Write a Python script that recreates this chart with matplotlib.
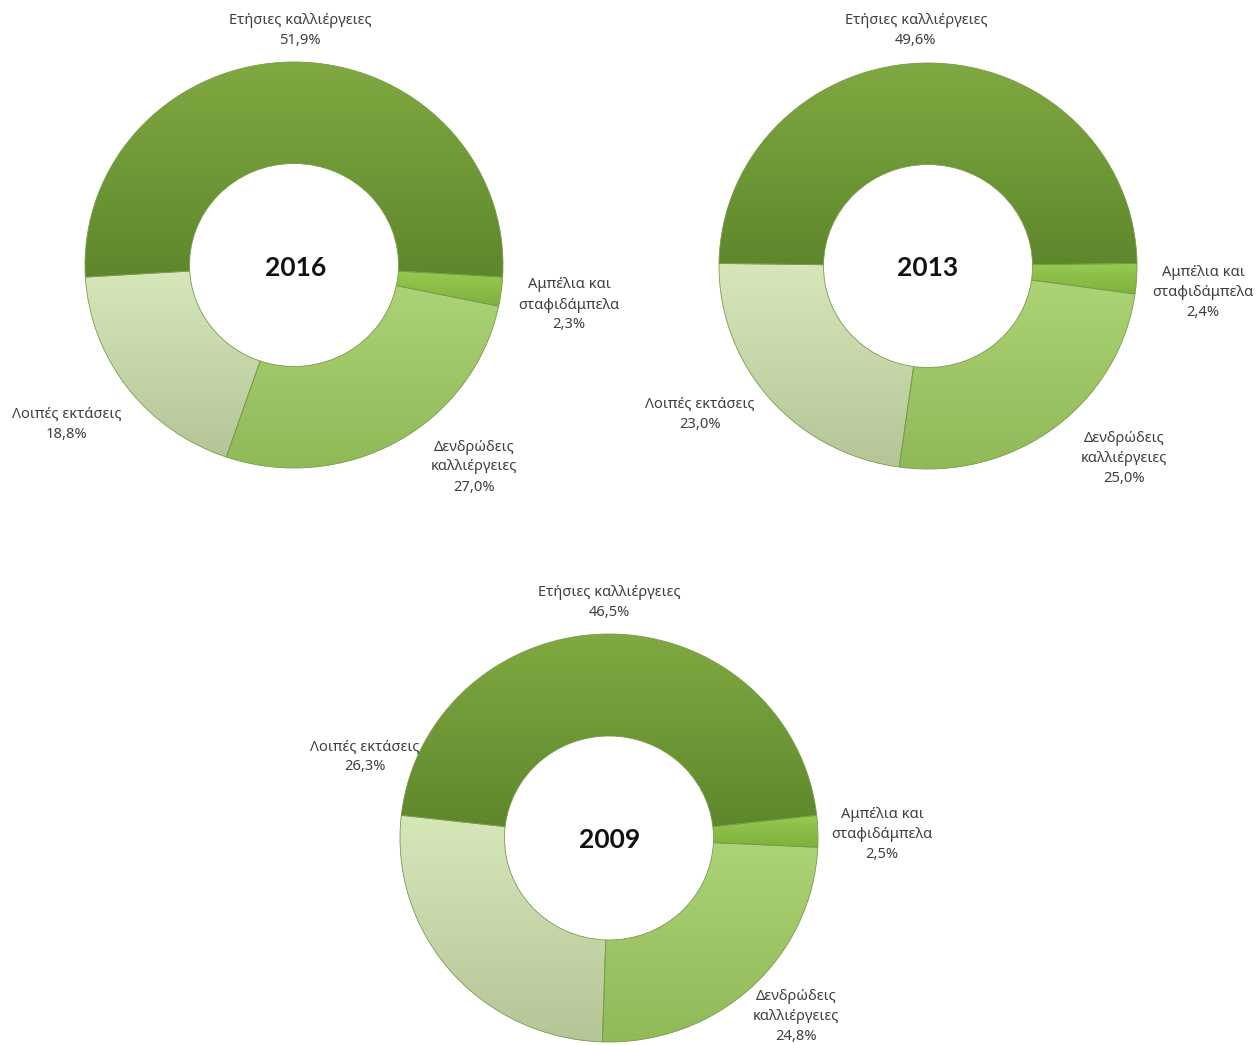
import numpy as np
import matplotlib
matplotlib.use('Agg')
import matplotlib.pyplot as plt
from matplotlib.colors import LinearSegmentedColormap

plt.rcParams['font.family'] = ['Noto Sans', 'DejaVu Sans']

# ---------------- data ----------------
categories = ['Ετήσιες καλλιέργειες', 'Αμπέλια και σταφιδάμπελα',
              'Δενδρώδεις καλλιέργειες', 'Λοιπές εκτάσεις']
label_lines = [['Ετήσιες καλλιέργειες'],
               ['Αμπέλια και', 'σταφιδάμπελα'],
               ['Δενδρώδεις', 'καλλιέργειες'],
               ['Λοιπές εκτάσεις']]
years = ['2016', '2013', '2009']
values_2016 = [51.9, 2.3, 27.0, 18.8]
values_2013 = [49.6, 2.4, 25.0, 23.0]
values_2009 = [46.5, 2.5, 24.8, 26.3]
all_values = [values_2016, values_2013, values_2009]

# ---------------- style ----------------
top_colors = ['#80a942', '#98cb52', '#acd375', '#d6e7ba']
bot_colors = ['#5e872c', '#7fb03c', '#90b958', '#b4c697']
text_color = '#404040'

W, H = 1256, 1045
fig = plt.figure(figsize=(W / 100, H / 100), dpi=100)

# donut geometry in pixels: centre x, centre y (from top), radius x, radius y
geom = [(294, 265, 209, 203), (928, 266, 209, 203), (609, 838, 209, 204)]

# label positions (pixels) for each donut and category
label_pos = [
    [(300, 21), (569, 285), (474, 447), (67, 414)],
    [(916, 20), (1203, 272), (1124, 438), (700, 404)],
    [(609, 593), (882, 815), (796, 997), (365, 747)],
]
year_pos = [(296, 268), (928, 268), (610, 840)]


def px(x, y):
    return x / W, 1 - y / H


grad = np.linspace(0, 1, 256).reshape(-1, 1)

for k, (vals, year) in enumerate(zip(all_values, years)):
    cx, cy, rx, ry = geom[k]
    ax = fig.add_axes([(cx - rx) / W, (H - (cy + ry)) / H, 2 * rx / W, 2 * ry / H])
    start = 90 + vals[0] / sum(vals) * 360 / 2
    wedges, _ = ax.pie(vals, startangle=start, counterclock=False, radius=1.0,
                       colors=bot_colors,
                       wedgeprops=dict(width=0.5, edgecolor='#7a9a4a', linewidth=0.6))
    for i, w in enumerate(wedges):
        ext = w.get_path().get_extents()
        cmap = LinearSegmentedColormap.from_list('g%d' % i, [bot_colors[i], top_colors[i]])
        im = ax.imshow(grad, cmap=cmap, extent=(ext.x0, ext.x1, ext.y0, ext.y1),
                       origin='lower', aspect='auto', zorder=w.get_zorder() + 0.1,
                       interpolation='bilinear')
        im.set_clip_path(w)
        w.set_zorder(w.get_zorder() + 0.2)
        w.set_facecolor('none')
    ax.set_xlim(-1, 1)
    ax.set_ylim(-1, 1)
    ax.set_aspect('auto')
    ax.axis('off')

    # labels
    for i, lines in enumerate(label_lines):
        lx, ly = label_pos[k][i]
        txt = lines + [('%.1f%%' % vals[i]).replace('.', ',')]
        for j, t in enumerate(txt):
            fig.text(*px(lx, ly + j * 20), t, ha='center', va='center',
                     fontsize=10.6, color=text_color)
    yx, yy = year_pos[k]
    fig.text(*px(yx, yy), year, ha='center', va='center', fontsize=19,
             fontweight='bold', color='#111111', family=['Lato', 'DejaVu Sans'])

fig.savefig('out.png', dpi=100, facecolor='white')
